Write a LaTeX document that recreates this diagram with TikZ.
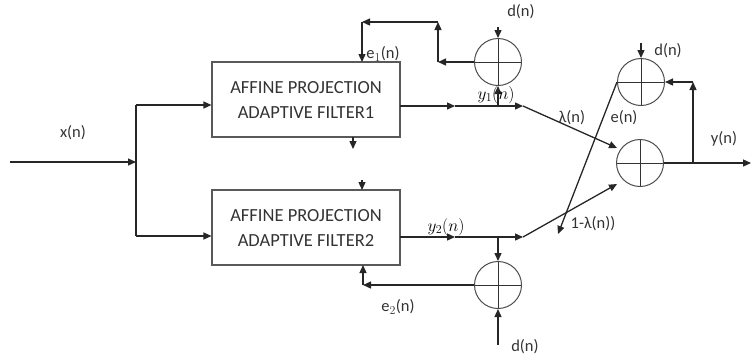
\documentclass[tikz,border=0pt]{standalone}
\usepackage{fontspec}
\setmainfont{Carlito}
\usetikzlibrary{arrows.meta}
\begin{document}
\begin{tikzpicture}[x=1pt,y=-1pt,
  ln/.style={line width=1.3pt,draw=black!85},
  arr/.style={ln,-{Triangle[length=8pt,width=7pt]}},
  fbox/.style={draw=black!65,line width=1.1pt,minimum width=188pt,minimum height=75pt,inner sep=0pt,align=center,text=black!80,font=\fontsize{18.5}{25}\selectfont},
  summer/.style={circle,draw=black!70,line width=1pt,minimum size=47pt,inner sep=0pt,
    path picture={\draw[black!80,line width=1pt] (path picture bounding box.north) -- (path picture bounding box.south)
      (path picture bounding box.west) -- (path picture bounding box.east);}},
  lbl/.style={text=black!80,font=\fontsize{16.5}{18}\selectfont,inner sep=1pt},
  mlbl/.style={text=black,font=\fontsize{16.5}{18}\selectfont,inner sep=1pt}]
\useasboundingbox (0,0) rectangle (751,360);
% blocks
\node[fbox] (f1) at (306,99.5) {AFFINE PROJECTION\\ADAPTIVE FILTER1};
\node[fbox] (f2) at (306,227.5) {AFFINE PROJECTION\\ADAPTIVE FILTER2};
\node[summer] (s1) at (498,62) {};
\node[summer] (s2) at (498,285) {};
\node[summer] (s3) at (641,82) {};
\node[summer] (s4) at (640,163) {};
% coordinates
\coordinate (in) at (10,162);
\coordinate (br) at (136,162);
\coordinate (bt) at (136,105);
\coordinate (bb) at (136,236);
\coordinate (o1) at (400,106);
\coordinate (m1) at (455,106);
\coordinate (j1) at (523,106);
\coordinate (o2) at (400,237);
\coordinate (m2) at (455,237);
\coordinate (j2) at (523,237);
\coordinate (t1) at (498,106);
\coordinate (t2) at (498,237);
\coordinate (c1) at (438,62);
\coordinate (c2) at (438,22);
\coordinate (c3) at (362,22);
\coordinate (c4) at (362,62);
\coordinate (c5) at (363,285);
\coordinate (c6) at (363,265);
\coordinate (d1) at (498,27);
\coordinate (d2) at (498,345);
\coordinate (d3) at (641,43);
\coordinate (fo) at (693,163);
\coordinate (fu) at (693,82);
\coordinate (out) at (751,163);
\coordinate (el) at (617,82);
\coordinate (ee) at (558,234);
\coordinate (a4) at (617,148);
\coordinate (b4) at (617,184);
\coordinate (u1) at (353,137);
\coordinate (u2) at (353,149);
\coordinate (v1) at (362,180);
\coordinate (v2) at (362,190);
% input
\draw[arr] (in) -- (br);
\draw[ln] (bt) -- (bb);
\draw[arr] (bt) -- (bt -| f1.west);
\draw[arr] (bb) -- (bb -| f2.west);
% outputs of filters
\draw[arr] (o1) -- (m1);
\draw[arr] (m1) -- (j1);
\draw[arr] (o2) -- (m2);
\draw[arr] (m2) -- (j2);
\draw[arr] (t1) -- (s1.south);
\draw[arr] (t2) -- (s2.north);
% error feedback 1
\draw[arr] (s1.west) -- (c1);
\draw[arr] (c1) -- (c2);
\draw[arr] (c2) -- (c3);
\draw[arr] (c3) -- (c4);
% error feedback 2
\draw[arr] (s2.west) -- (c5);
\draw[arr] (c5) -- (c6);
% desired
\draw[arr] (d1) -- (s1.north);
\draw[arr] (d2) -- (s2.south);
\draw[arr] (d3) -- (s3.north);
% stubs
\draw[arr] (u1) -- (u2);
\draw[arr] (v1) -- (v2);
% combination
\draw[arr] (j1) -- (a4);
\draw[arr] (j2) -- (b4);
\draw[arr] (el) -- (ee);
\draw[arr] (s4.east) -- (out);
\draw[arr] (fo) -- (fu);
\draw[arr] (fu) -- (s3.east);
% labels
\node[lbl] (lx) at (73,133) {x(n)};
\node[lbl] (le1) at (383,54) {e$_1$(n)};
\node[lbl] (ld1) at (521,12) {d(n)};
\node[mlbl] (ly1) at (496,95) {$y_1(n)$};
\node[lbl] (lla) at (572,118) {λ(n)};
\node[lbl] (le) at (624,118) {e(n)};
\node[lbl] (ld3) at (668,51) {d(n)};
\node[lbl] (ly) at (724,139) {y(n)};
\node[mlbl] (ly2) at (446,227) {$y_2(n)$};
\node[lbl] (l1l) at (593,224) {1-λ(n))};
\node[lbl] (le2) at (398,307) {e$_2$(n)};
\node[lbl] (ld2) at (525,347) {d(n)};
\end{tikzpicture}
\end{document}
